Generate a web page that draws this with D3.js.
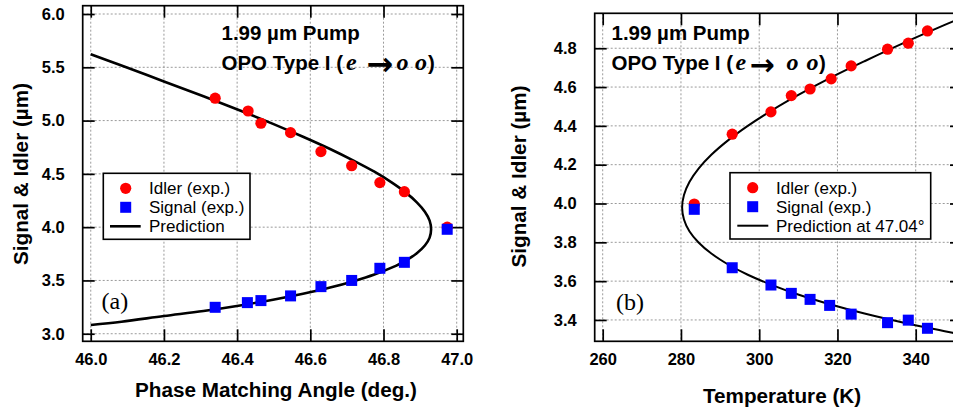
<!DOCTYPE html>
<html><head><meta charset="utf-8">
<script src="https://cdn.jsdelivr.net/npm/d3@7"></script>
<style>body{margin:0;background:#fff}svg{display:block}</style>
</head><body>
<svg id="c" width="953" height="410"></svg>
<script>
// ---------- Panel (a): wavelength vs phase-matching angle ----------
const aIdlerAngle  = [46.34, 46.43, 46.465, 46.546, 46.629, 46.713, 46.79, 46.857, 46.974];
const aIdlerWl     = [5.21, 5.09, 4.975, 4.887, 4.709, 4.577, 4.418, 4.333, 4.00];
const aSignalAngle = [46.34, 46.428, 46.465, 46.546, 46.629, 46.713, 46.79, 46.857, 46.974];
const aSignalWl    = [3.248, 3.292, 3.311, 3.355, 3.442, 3.50, 3.614, 3.67, 3.98];
const aPredAngle = [46.000, 46.084, 46.200, 46.308, 46.408, 46.498, 46.580, 46.654, 46.718, 46.775, 46.822, 46.861, 46.891, 46.913, 46.926, 46.930,
                    46.926, 46.913, 46.891, 46.861, 46.822, 46.775, 46.718, 46.654, 46.580, 46.498, 46.408, 46.308, 46.200, 46.084, 46.000];
const aPredWl    = [5.622, 5.517, 5.367, 5.228, 5.095, 4.969, 4.848, 4.733, 4.624, 4.520, 4.420, 4.324, 4.233, 4.145, 4.061, 3.980,
                    3.902, 3.828, 3.756, 3.687, 3.620, 3.555, 3.493, 3.433, 3.375, 3.319, 3.265, 3.213, 3.166, 3.113, 3.082];
const aXTicks = [46.0, 46.2, 46.4, 46.6, 46.8, 47.0];
const aYTicks = [3.0, 3.5, 4.0, 4.5, 5.0, 5.5, 6.0];

// ---------- Panel (b): wavelength vs temperature ----------
const bIdlerT   = [283.4, 293.1, 303.0, 308.2, 313.0, 318.4, 323.5, 332.8, 338.1, 343.0];
const bIdlerWl  = [3.997, 4.357, 4.472, 4.556, 4.590, 4.642, 4.709, 4.795, 4.826, 4.889];
const bSignalT  = [283.4, 293.1, 303.0, 308.2, 313.0, 318.0, 323.5, 332.8, 338.1, 343.0];
const bSignalWl = [3.970, 3.669, 3.580, 3.537, 3.506, 3.475, 3.430, 3.386, 3.399, 3.357];
const bPredT  = [353.13, 347.42, 336.70, 326.91, 318.05, 310.13, 303.14, 297.08, 291.95, 287.76, 284.50, 282.16, 280.77, 280.30,
                 280.77, 282.16, 284.50, 287.76, 291.95, 297.08, 303.14, 310.13, 318.05, 326.91, 336.70, 347.42, 353.13];
const bPredWl = [4.969, 4.920, 4.825, 4.733, 4.646, 4.561, 4.479, 4.400, 4.324, 4.251, 4.180, 4.111, 4.044, 3.980,
                 3.918, 3.857, 3.799, 3.742, 3.687, 3.633, 3.581, 3.530, 3.481, 3.433, 3.387, 3.342, 3.319];
const bXTicks = [260, 280, 300, 320, 340, 360];
const bYTicks = [3.4, 3.6, 3.8, 4.0, 4.2, 4.4, 4.6, 4.8];

const svg = d3.select("#c");
const SANS = "'Liberation Sans', Arial, sans-serif";
const SERIF = "'Liberation Serif', 'Times New Roman', serif";

function panel(o) {
  const g = svg.append("g");
  const x = d3.scaleLinear().domain(o.xDom).range([o.x0, o.x1]);
  const y = d3.scaleLinear().domain(o.yDom).range([o.y1, o.y0]);
  const cid = "clip" + o.id;
  svg.append("clipPath").attr("id", cid).append("rect")
    .attr("x", o.x0).attr("y", o.y0).attr("width", o.x1 - o.x0).attr("height", o.y1 - o.y0);

  // grid
  const grid = g.append("g").attr("stroke", "#9a9a9a").attr("stroke-width", 1).attr("stroke-dasharray", "2,2").attr("clip-path", `url(#${cid})`);
  grid.selectAll("line.vx").data(o.xTicks).join("line")
    .attr("x1", d => x(d)).attr("x2", d => x(d)).attr("y1", o.y0).attr("y2", o.y1);
  grid.selectAll("line.hy").data(o.yTicks).join("line")
    .attr("y1", d => y(d)).attr("y2", d => y(d)).attr("x1", o.x0).attr("x2", o.x1);

  // axes (ticks inward, labels outside)
  const tl = 12;
  const xb = g.append("g").attr("transform", `translate(0,${o.y1})`)
    .call(d3.axisBottom(x).tickValues(o.xTicks).tickSize(-tl).tickPadding(tl + 12).tickFormat(o.xFmt));
  const xt = g.append("g").attr("transform", `translate(0,${o.y0})`)
    .call(d3.axisTop(x).tickValues(o.xTicks).tickSize(-tl).tickFormat(""));
  const yl = g.append("g").attr("transform", `translate(${o.x0},0)`)
    .call(d3.axisLeft(y).tickValues(o.yTicks).tickSize(-tl).tickPadding(tl + 6).tickFormat(d3.format(".1f")));
  const yr = g.append("g").attr("transform", `translate(${o.x1},0)`)
    .call(d3.axisRight(y).tickValues(o.yTicks).tickSize(-tl).tickFormat(""));
  [xb, xt, yl, yr].forEach(a => {
    a.select(".domain").remove();
    a.selectAll(".tick line").attr("stroke", "#000").attr("stroke-width", 1.7);
    a.selectAll(".tick text").attr("font-family", SANS).attr("font-weight", "bold")
      .attr("font-size", 16.5).attr("fill", "#000");
  });
  xb.selectAll(".tick text").attr("dy", null).attr("y", 24);
  [xb, xt].forEach(a => a.selectAll(".tick").filter(d => x(d) > o.x1 + 0.5).remove());

  // frame
  g.append("rect").attr("x", o.x0).attr("y", o.y0).attr("width", o.x1 - o.x0).attr("height", o.y1 - o.y0)
    .attr("fill", "none").attr("stroke", "#000").attr("stroke-width", 1.7);

  // prediction curve
  const line = d3.line().x(d => x(d[0])).y(d => y(d[1])).curve(d3.curveCatmullRom.alpha(0.5));
  g.append("path").datum(d3.zip(o.predX, o.predY)).attr("d", line)
    .attr("fill", "none").attr("stroke", "#000").attr("stroke-width", o.lw).attr("clip-path", `url(#${cid})`);

  // markers
  g.append("g").selectAll("circle").data(d3.zip(o.idX, o.idY)).join("circle")
    .attr("cx", d => x(d[0])).attr("cy", d => y(d[1])).attr("r", 5.6).attr("fill", "#ff0000");
  const s = 11;
  g.append("g").selectAll("rect").data(d3.zip(o.sgX, o.sgY)).join("rect")
    .attr("x", d => x(d[0]) - s / 2).attr("y", d => y(d[1]) - s / 2).attr("width", s).attr("height", s).attr("fill", "#0000ff");

  // axis titles
  g.append("text").attr("x", o.xtX).attr("y", o.xtY).attr("text-anchor", "middle")
    .attr("font-family", SANS).attr("font-weight", "bold").attr("font-size", 20.7).text(o.xTitle);
  g.append("text").attr("transform", `translate(${o.ytX},${o.ytY}) rotate(-90)`).attr("text-anchor", "middle")
    .attr("dy", "0.35em").attr("font-family", SANS).attr("font-weight", "bold").attr("font-size", 20.7)
    .text("Signal & Idler (µm)");

  // annotations
  const ax = o.annX, A = o.ann;
  g.append("text").attr("x", ax).attr("y", 39.5).attr("font-family", SANS).attr("font-weight", "bold")
    .attr("font-size", 20.5).text("1.99 µm Pump");
  const t2 = g.append("text").attr("y", 70).attr("font-weight", "bold").attr("font-size", 20.5);
  t2.append("tspan").attr("x", ax).attr("font-family", SANS).text("OPO Type I (");
  t2.append("tspan").attr("x", ax + A.e).attr("font-family", SERIF).attr("font-style", "italic").attr("font-size", 24).text("e");
  t2.append("tspan").attr("x", ax + A.o1).attr("font-family", SERIF).attr("font-style", "italic").attr("font-size", 24).text("o");
  t2.append("tspan").attr("x", ax + A.o2).attr("font-family", SERIF).attr("font-style", "italic").attr("font-size", 24).text("o");
  t2.append("tspan").attr("x", ax + A.p).attr("font-family", SANS).text(")");
  g.append("text").attr("x", ax + A.arr).attr("y", 74.5).attr("font-family", "'DejaVu Sans', sans-serif")
    .attr("font-weight", "bold").attr("font-size", A.arrSize).text("→");

  g.append("text").attr("x", o.labX).attr("y", o.labY).attr("font-family", SERIF).attr("font-size", 24).text(o.lab);

  // legend
  const L = o.leg;
  const lg = g.append("g");
  lg.append("rect").attr("x", L.x).attr("y", L.y).attr("width", L.w).attr("height", L.h)
    .attr("fill", "#fff").attr("stroke", "#000").attr("stroke-width", 1.6);
  lg.append("circle").attr("cx", L.mx).attr("cy", L.y + 15).attr("r", 5.6).attr("fill", "#ff0000");
  lg.append("rect").attr("x", L.mx - 5.5).attr("y", L.y + 34 - 5.5).attr("width", 11).attr("height", 11).attr("fill", "#0000ff");
  lg.append("line").attr("x1", L.l0).attr("x2", L.l1).attr("y1", L.y + 53).attr("y2", L.y + 53)
    .attr("stroke", "#000").attr("stroke-width", o.lw);
  const names = ["Idler (exp.)", "Signal (exp.)", o.predName];
  lg.selectAll("text").data(names).join("text")
    .attr("x", L.tx).attr("y", (d, i) => L.y + 15 + 19 * i).attr("dy", "0.35em")
    .attr("font-family", SANS).attr("font-size", 17).text(d => d);
}

panel({
  id: "a", x0: 82.7, x1: 463.3, y0: 5.7, y1: 341.3,
  xDom: [45.978, 47.018], yDom: [2.929, 6.078],
  xTicks: aXTicks, yTicks: aYTicks, xFmt: d3.format(".1f"),
  predX: aPredAngle, predY: aPredWl, idX: aIdlerAngle, idY: aIdlerWl, sgX: aSignalAngle, sgY: aSignalWl,
  lw: 2.6, xTitle: "Phase Matching Angle (deg.)", xtX: 276, xtY: 397, ytX: 20.5, ytY: 174,
  annX: 221.5, ann: { e: 124.5, arr: 145, arrSize: 32, o1: 175, o2: 193.5, p: 206.5 },
  lab: "(a)", labX: 101.5, labY: 308.5,
  leg: { x: 103.3, y: 173.3, w: 146.7, h: 66, mx: 125.7, l0: 110, l1: 140.7, tx: 149 },
  predName: "Prediction"
});

panel({
  id: "b", x0: 594.7, x1: 962, y0: 13.3, y1: 341.3,
  xDom: [257.955, 351.83], yDom: [3.290, 4.980],
  xTicks: bXTicks, yTicks: bYTicks, xFmt: d3.format("d"),
  predX: bPredT, predY: bPredWl, idX: bIdlerT, idY: bIdlerWl, sgX: bSignalT, sgY: bSignalWl,
  lw: 2, xTitle: "Temperature (K)", xtX: 782, xtY: 403, ytX: 519, ytY: 176.5,
  annX: 611.5, ann: { e: 124, arr: 138, arrSize: 30, o1: 175, o2: 195, p: 207.5 },
  lab: "(b)", labX: 616, labY: 310,
  leg: { x: 730, y: 172.7, w: 200.7, h: 66.3, mx: 752.7, l0: 737.3, l1: 768.3, tx: 776 },
  predName: "Prediction at 47.04°"
});
</script>
</body></html>
